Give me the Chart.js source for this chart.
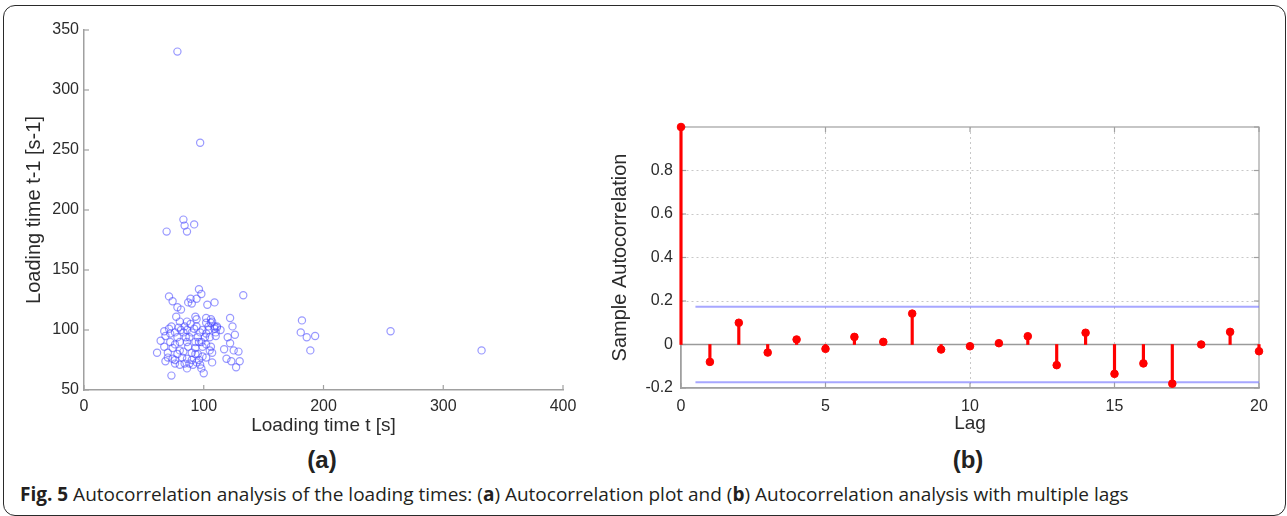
<!DOCTYPE html>
<html lang="en">
<head>
    <meta charset="UTF-8">
    <title>Fig. 5 Autocorrelation analysis</title>
    <script src="https://cdn.jsdelivr.net/npm/chart.js"></script>
    <style>
        body {
            margin: 0;
            width: 1287px;
            height: 516px;
            overflow: hidden;
            position: relative;
            background: #fff;
        }

        #frame {
            position: absolute;
            left: 3px;
            top: 5px;
            width: 1283px;
            height: 511px;
            box-sizing: border-box;
            border: 1.5px solid #2a2a2a;
            border-radius: 12px;
        }

        .box {
            position: absolute;
            top: 0;
            height: 440px;
        }

        .panel {
            position: absolute;
            top: 447px;
            width: 100px;
            text-align: center;
            font: bold 24px "Liberation Sans", Arial, sans-serif;
            line-height: 26px;
            color: #222;
        }

        #caption {
            position: absolute;
            left: 20px;
            top: 484px;
            font: 19px "Open Sans", sans-serif;
            line-height: 20px;
            color: #231f20;
            white-space: nowrap;
        }
    </style>
</head>
<body>
    <div id="frame"></div>
    <div class="box" style="left:0;width:600px"><canvas id="lagPlot"></canvas></div>
    <div class="box" style="left:600px;width:687px"><canvas id="acfPlot"></canvas></div>
    <div class="panel" style="left:272px">(a)</div>
    <div class="panel" style="left:918px">(b)</div>
    <div id="caption"><b>Fig. 5</b> Autocorrelation analysis of the loading times: (<b>a</b>) Autocorrelation plot and (<b>b</b>) Autocorrelation analysis with multiple lags</div>

    <script>
        // (a) loading time t vs loading time t-1
        const loadT = [71, 74, 78, 81, 96, 98, 94, 89, 87, 90, 103, 109, 133, 77, 80, 86, 93, 94, 89, 102,
            106, 109, 111, 122, 124, 73, 71, 67, 68, 64, 67, 61, 70, 68, 73, 76, 78, 80, 76, 80,
            78, 76, 82, 86, 84, 80, 86, 88, 90, 90, 87, 85, 83, 93, 95, 97, 99, 102, 104, 101,
            98, 102, 105, 107, 99, 96, 102, 97, 98, 100, 107, 93, 93, 110, 110, 109, 105, 106, 117, 119,
            123, 120, 122, 126, 125, 129, 130, 127, 114, 111, 92, 94, 102, 106, 72, 72, 74, 70, 74, 76,
            83, 86, 88, 90, 95, 96, 99, 79, 81, 86, 84, 107, 104, 91, 94,
            78, 97, 69, 83, 84, 86, 92, 182, 181, 186, 193, 189, 256, 332];
        const loadPrev = [128, 124, 119, 117, 134, 130, 126, 126, 123, 122, 121, 123, 129, 111, 107, 107, 111, 109, 105, 106,
            106, 103, 102, 110, 103, 103, 101, 99, 95, 91, 86, 81, 77, 74, 62, 98, 94, 90, 88, 83,
            80, 75, 77, 76, 72, 71, 68, 72, 75, 81, 86, 94, 98, 90, 94, 98, 100, 97, 100, 94,
            90, 88, 83, 81, 78, 75, 77, 71, 68, 64, 73, 80, 85, 95, 98, 101, 94, 86, 84, 76,
            74, 94, 89, 96, 83, 82, 74, 69, 100, 103, 101, 103, 110, 109, 97, 90, 85, 81, 76, 72,
            82, 90, 94, 98, 80, 90, 86, 102, 100, 100, 103, 107, 103, 71, 73,
            332, 256, 182, 192, 187, 182, 188, 108, 98, 94, 95, 83, 99, 83];

        // (b) sample autocorrelation per lag
        const lags = [0, 1, 2, 3, 4, 5, 6, 7, 8, 9, 10, 11, 12, 13, 14, 15, 16, 17, 18, 19, 20];
        const acf = [1.0, -0.08, 0.10, -0.037, 0.023, -0.02, 0.035, 0.012, 0.142, -0.023, -0.008,
            0.006, 0.038, -0.095, 0.054, -0.135, -0.087, -0.18, 0.0, 0.058, -0.031];
        const bound = 0.174;
        const boundFrom = 0.5;

        const tickFont = { family: '"Liberation Sans", Arial, sans-serif', size: 16 };
        const xTitleFont = { family: '"Liberation Sans", Arial, sans-serif', size: 19 };
        const yTitleFont = { family: '"Liberation Sans", Arial, sans-serif', size: 20 };
        const textColor = '#2b2b2b';
        const axisColor = '#a0a0a0';

        // short inward tick marks (and the box for panel b)
        const innerTicks = {
            id: 'innerTicks',
            beforeDatasetsDraw(chart, args, opts) {
                const { ctx, chartArea: a, scales } = chart;
                const line = (x1, y1, x2, y2) => {
                    ctx.beginPath();
                    ctx.moveTo(x1, y1);
                    ctx.lineTo(x2, y2);
                    ctx.stroke();
                };
                ctx.save();
                ctx.strokeStyle = axisColor;
                ctx.lineWidth = 1.2;
                if (opts.box) ctx.strokeRect(a.left, a.top, a.right - a.left, a.bottom - a.top);
                scales.x.ticks.forEach(t => {
                    const px = scales.x.getPixelForValue(t.value);
                    line(px, a.bottom, px, a.bottom - 5);
                    if (opts.box) line(px, a.top, px, a.top + 5);
                });
                scales.y.ticks.forEach(t => {
                    const py = scales.y.getPixelForValue(t.value);
                    line(a.left, py, a.left + 5, py);
                    if (opts.box) line(a.right, py, a.right - 5, py);
                });
                ctx.restore();
            }
        };

        // panel (a)
        new Chart(document.getElementById('lagPlot'), {
            type: 'scatter',
            data: {
                datasets: [{
                    data: loadT.map((v, i) => ({ x: v, y: loadPrev[i] })),
                    pointStyle: 'circle',
                    pointRadius: 3.6,
                    borderWidth: 1.2,
                    borderColor: 'rgba(70, 70, 255, 0.55)',
                    backgroundColor: 'rgba(0, 0, 0, 0)'
                }]
            },
            options: {
                animation: false,
                responsive: true,
                maintainAspectRatio: false,
                layout: { padding: { top: 30, right: 37, left: 0, bottom: 0 } },
                plugins: { legend: { display: false }, tooltip: { enabled: false }, innerTicks: { box: false } },
                scales: {
                    x: {
                        type: 'linear', min: 0, max: 400,
                        ticks: { stepSize: 100, font: tickFont, color: textColor, padding: 7 },
                        grid: { display: false, drawTicks: false },
                        border: { color: axisColor, width: 1.5 },
                        title: { display: true, text: 'Loading time t [s]', font: xTitleFont, color: textColor, padding: { top: 0, bottom: 3 } },
                        afterFit(s) { s.height = 50; }
                    },
                    y: {
                        min: 50, max: 350,
                        ticks: { stepSize: 50, font: tickFont, color: textColor, padding: 5 },
                        grid: { display: false, drawTicks: false },
                        border: { color: axisColor, width: 1.5 },
                        title: { display: true, text: 'Loading time t-1 [s-1]', font: yTitleFont, color: textColor, padding: { top: 22, bottom: 0 } },
                        afterFit(s) { s.width = 84; }
                    }
                }
            },
            plugins: [innerTicks]
        });

        // panel (b)
        const gridColor = (lo, hi) => c => (c.tick.value > lo + 1e-9 && c.tick.value < hi - 1e-9 && Math.abs(c.tick.value) > 1e-9) ? '#c8c8c8' : 'rgba(0,0,0,0)';

        new Chart(document.getElementById('acfPlot'), {
            type: 'bar',
            data: {
                datasets: [{
                    type: 'line',
                    data: lags.map((l, i) => ({ x: l, y: acf[i] })),
                    showLine: false,
                    pointRadius: 3.8,
                    pointBackgroundColor: '#ff0000',
                    pointBorderColor: '#ff0000',
                    clip: false,
                    order: 0
                }, {
                    data: lags.map((l, i) => ({ x: l, y: acf[i] })),
                    backgroundColor: '#ff0000',
                    barThickness: 2.5,
                    clip: false,
                    order: 1
                }, {
                    type: 'line',
                    data: [{ x: lags[0], y: 0 }, { x: lags[lags.length - 1], y: 0 }],
                    borderColor: '#9a9a9a',
                    borderWidth: 1.5,
                    pointRadius: 0,
                    order: 2
                }, {
                    type: 'line',
                    data: [{ x: boundFrom, y: bound }, { x: lags[lags.length - 1], y: bound }],
                    borderColor: 'rgba(120, 120, 255, 0.65)',
                    borderWidth: 2,
                    pointRadius: 0,
                    order: 3
                }, {
                    type: 'line',
                    data: [{ x: boundFrom, y: -bound }, { x: lags[lags.length - 1], y: -bound }],
                    borderColor: 'rgba(120, 120, 255, 0.65)',
                    borderWidth: 2,
                    pointRadius: 0,
                    order: 3
                }]
            },
            options: {
                animation: false,
                responsive: true,
                maintainAspectRatio: false,
                layout: { padding: { top: 127, right: 28, left: 0, bottom: 0 } },
                plugins: { legend: { display: false }, tooltip: { enabled: false }, innerTicks: { box: true } },
                scales: {
                    x: {
                        type: 'linear', min: 0, max: 20, offset: false,
                        ticks: { stepSize: 5, font: tickFont, color: textColor, padding: 9 },
                        grid: { color: gridColor(0, 20), lineWidth: 1, drawTicks: false, offset: false },
                        border: { color: axisColor, width: 1.5, dash: [2, 3] },
                        title: { display: true, text: 'Lag', font: xTitleFont, color: textColor, padding: { top: 0, bottom: 5 } },
                        afterFit(s) { s.height = 52; }
                    },
                    y: {
                        min: -0.2, max: 1,
                        ticks: {
                            stepSize: 0.2, font: tickFont, color: textColor, padding: 8,
                            callback: v => Math.abs(v - 1) < 1e-9 ? '' : (Math.abs(v) < 1e-9 ? '0' : v.toFixed(1))
                        },
                        grid: { color: gridColor(-0.2, 1), lineWidth: 1, drawTicks: false },
                        border: { color: axisColor, width: 1.5, dash: [2, 3] },
                        title: { display: true, text: 'Sample Autocorrelation', font: yTitleFont, color: textColor, padding: { top: 8, bottom: 0 } },
                        afterFit(s) { s.width = 81; }
                    }
                }
            },
            plugins: [innerTicks]
        });
    </script>
</body>
</html>
